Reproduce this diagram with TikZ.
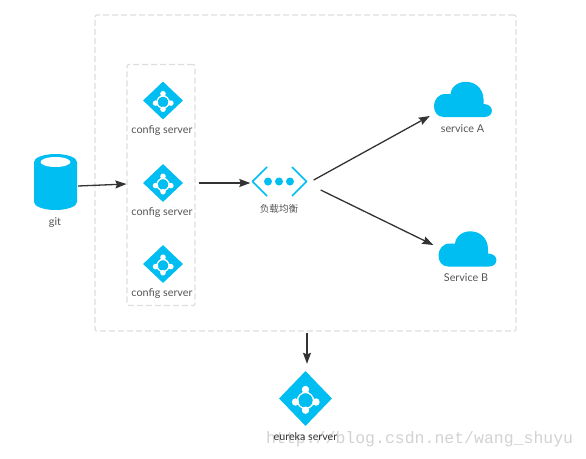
\documentclass[tikz,border=0pt]{standalone}
\usepackage{fontspec}
\setmainfont{Lato}
\newfontfamily\cjk{Noto Sans CJK SC}
\newfontfamily\wmfont{Liberation Mono}
\usetikzlibrary{arrows.meta,shapes.geometric}
\definecolor{iconblue}{HTML}{00BDF2}
\definecolor{dashgray}{HTML}{DDDDDD}
\definecolor{arrowgray}{HTML}{333333}
\definecolor{labelgray}{HTML}{555555}
\tikzset{
  hubnode/.style={diamond, fill=iconblue, inner sep=0pt, minimum width=40pt, minimum height=38pt},
  hubbig/.style={diamond, fill=iconblue, inner sep=0pt, minimum width=53pt, minimum height=55pt},
  lbl/.style={text=labelgray, font=\fontsize{10.8}{11}\selectfont, inner sep=0pt},
  dashbox/.style={draw=dashgray, line width=1.2pt, dash pattern=on 6pt off 3pt, rounded corners=2pt, inner sep=0pt},
  conn/.style={draw=arrowgray, line width=1.3pt, -{Stealth[length=11pt,width=8pt,inset=1.5pt]}},
  cloudA/.style={inner sep=0pt, minimum width=57pt, minimum height=35pt},
}
% white hub mark inside a diamond
\newcommand{\hubmark}[2]{
\begin{scope}[shift={(#1)}, scale=#2]
\draw[white, line width=1.2pt] (0,-9)--(-10,3.5)--(0,11.7)--(10.5,3.5)--cycle;
\fill[iconblue] (0,2) circle (7.4);
\draw[white, line width=1.2pt] (0,2) circle (8);
\fill[white] (0,-9) circle (3.7) (-10,3.5) circle (3.7) (10.5,3.5) circle (3.7) (0,11.7) circle (3.7);
\end{scope}}
\newcommand{\cloudmark}[1]{
\fill[iconblue, shift={(#1)}] (-19,17) .. controls (-32,17) and (-32,-6) .. (-17,-6) -- (-12,-6)
  .. controls (-10,-23) and (20,-23) .. (21,-1) -- (21,4)
  .. controls (32,4) and (32,17) .. (22,17) -- cycle;}
\begin{document}
\begin{tikzpicture}[x=1pt, y=-1pt, line join=round, >=Stealth]
\useasboundingbox (0,0) rectangle (586,458);
\node[dashbox, minimum width=421pt, minimum height=316pt] (outer) at (305.5,173) {};
\node[dashbox, minimum width=68pt, minimum height=241pt] (cfgbox) at (161,185) {};
% git
\node[inner sep=0pt, minimum width=43pt, minimum height=56pt] (git) at (55.5,182) {};
\fill[iconblue] (34,162) arc[x radius=21.5, y radius=8, start angle=180, end angle=360] -- (77,202) arc[x radius=21.5, y radius=8, start angle=0, end angle=180] -- cycle;
\fill[white] (55.5,162) ellipse (15 and 5);
\node[lbl] (gitlabel) at (55,222.5) {git};
% config servers
\node[hubnode] (cfgA) at (163,100.5) {};
\node[hubnode] (cfgB) at (163,183) {};
\node[hubnode] (cfgC) at (163,264) {};
\hubmark{cfgA}{.75}
\hubmark{cfgB}{.75}
\hubmark{cfgC}{.75}
\node[lbl] (cfgAlabel) at (162,131) {config server};
\node[lbl] (cfgBlabel) at (162,213) {config server};
\node[lbl] (cfgClabel) at (162,294) {config server};
% load balancer
\node[inner sep=0pt, minimum width=56pt, minimum height=30pt] (lb) at (279.5,181.5) {};
\draw[iconblue, line width=1.5pt] (267,167)--(252.5,181.5)--(267,196) (292,167)--(306.5,181.5)--(292,196);
\fill[iconblue] (268,181.5) circle (4) (279,181.5) circle (4) (290,181.5) circle (4);
\node[lbl, font=\fontsize{9.6}{10}\selectfont] (lblabel) at (279,208.5) {\cjk 负载均衡};
% services
\node[cloudA] (svcA) at (462.5,100) {};
\node[cloudA] (svcB) at (467,249.5) {};
\cloudmark{svcA}
\cloudmark{svcB}
\node[lbl] (svcAlabel) at (462.5,129) {service A};
\node[lbl] (svcBlabel) at (466,278) {Service B};
% eureka
\node[hubbig] (eureka) at (305.5,398.5) {};
\hubmark{eureka}{1}
\node[text=gray!35, font=\wmfont\fontsize{16.5}{16.5}\selectfont, inner sep=0pt, anchor=west] (mark) at (266,439) {http://blog.csdn.net/wang\_shuyu};
\node[text=black!80, font=\fontsize{10.7}{11}\selectfont, inner sep=0pt] (eurekalabel) at (305.5,437) {eureka server};
% arrows
\draw[conn] ([yshift=-4pt,xshift=1pt]git.east) -- ([yshift=1pt]cfgbox.west);
\draw[conn] ([xshift=3pt,yshift=2pt]cfgbox.east) -- ([xshift=-1pt,yshift=-1.5pt]lb.west);
\draw[conn] ([xshift=6pt,yshift=1.5pt]lb.east) -- ([xshift=-4pt,yshift=-16pt]svcA.west);
\draw[conn] ([xshift=13pt,yshift=-8.5pt]lb.east) -- ([xshift=-5pt,yshift=4.5pt]svcB.west);
\draw[conn] (outer.south -| eureka.north) ++(1.5,1) -- ([xshift=1.5pt,yshift=7pt]eureka.north);
\end{tikzpicture}
\end{document}
